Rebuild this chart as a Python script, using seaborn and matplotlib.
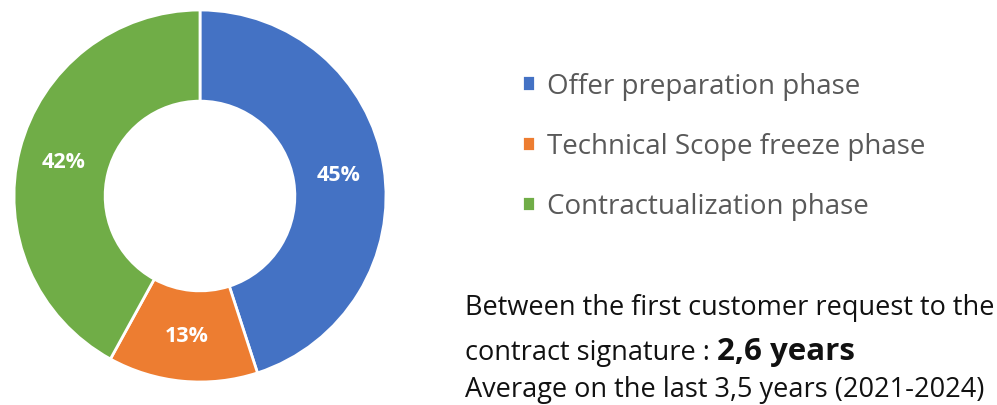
import matplotlib
matplotlib.use("Agg")
import matplotlib.pyplot as plt
import seaborn as sns

categories = ["Offer preparation phase", "Technical Scope freeze phase", "Contractualization phase"]
shares = [45, 13, 42]
colors = ["#4472C4", "#ED7D31", "#70AD47"]
line1 = "Between the first customer request to the"
line2a = "contract signature : "
line2b = "2,6 years"
line3 = "Average on the last 3,5 years (2021-2024)"

sns.set_theme(style="white")
plt.rcParams['font.family'] = ['Open Sans', 'DejaVu Sans']

W, H = 997, 406
fig = plt.figure(figsize=(W / 100, H / 100), dpi=100)

# donut axes: center (200,197) px from top, outer radius 186 px
half = 190
cx, cy = 200, 197
ax = fig.add_axes([(cx - half) / W, (H - cy - half) / H, 2 * half / W, 2 * half / H])
lim = half / 186
wedges, texts, autotexts = ax.pie(
    shares, colors=colors, startangle=90, counterclock=False,
    radius=1.0, autopct=lambda p: f"{p:.0f}%", pctdistance=0.755,
    wedgeprops=dict(width=0.49, edgecolor="white", linewidth=2),
    textprops=dict(color="white", fontsize=15.5, fontweight="bold"))
ax.set_xlim(-lim, lim)
ax.set_ylim(-lim, lim)
ax.set_aspect("equal")
ax.axis("off")

fs_leg = 20
leg = fig.legend(wedges, categories, loc="upper left",
                 bbox_to_anchor=(522 / W, 1 - 73 / H), frameon=False,
                 fontsize=fs_leg, handlelength=0.47, handleheight=0.47,
                 handletextpad=0.43, labelspacing=1.16, borderpad=0, borderaxespad=0)
for t in leg.get_texts():
    t.set_color("#595959")

fs_txt = 19.5
fam = ['Open Sans', 'DejaVu Sans']
x0 = 465 / W
fig.text(x0, 1 - 315 / H, line1, fontsize=fs_txt, color="#111111",
         family=fam, va="baseline", ha="left")
t2 = fig.text(x0, 1 - 360 / H, line2a, fontsize=fs_txt, color="#111111",
              family=fam, va="baseline", ha="left")
fig.canvas.draw()
bb = t2.get_window_extent()
fig.text(bb.x1 / W, 1 - 360 / H, line2b, fontsize=22.5, fontweight="bold",
         color="#111111", family=fam, va="baseline", ha="left")
fig.text(x0, 1 - 397 / H, line3, fontsize=fs_txt, color="#111111",
         family=fam, va="baseline", ha="left")

fig.savefig("out.png", dpi=100, facecolor="white")
